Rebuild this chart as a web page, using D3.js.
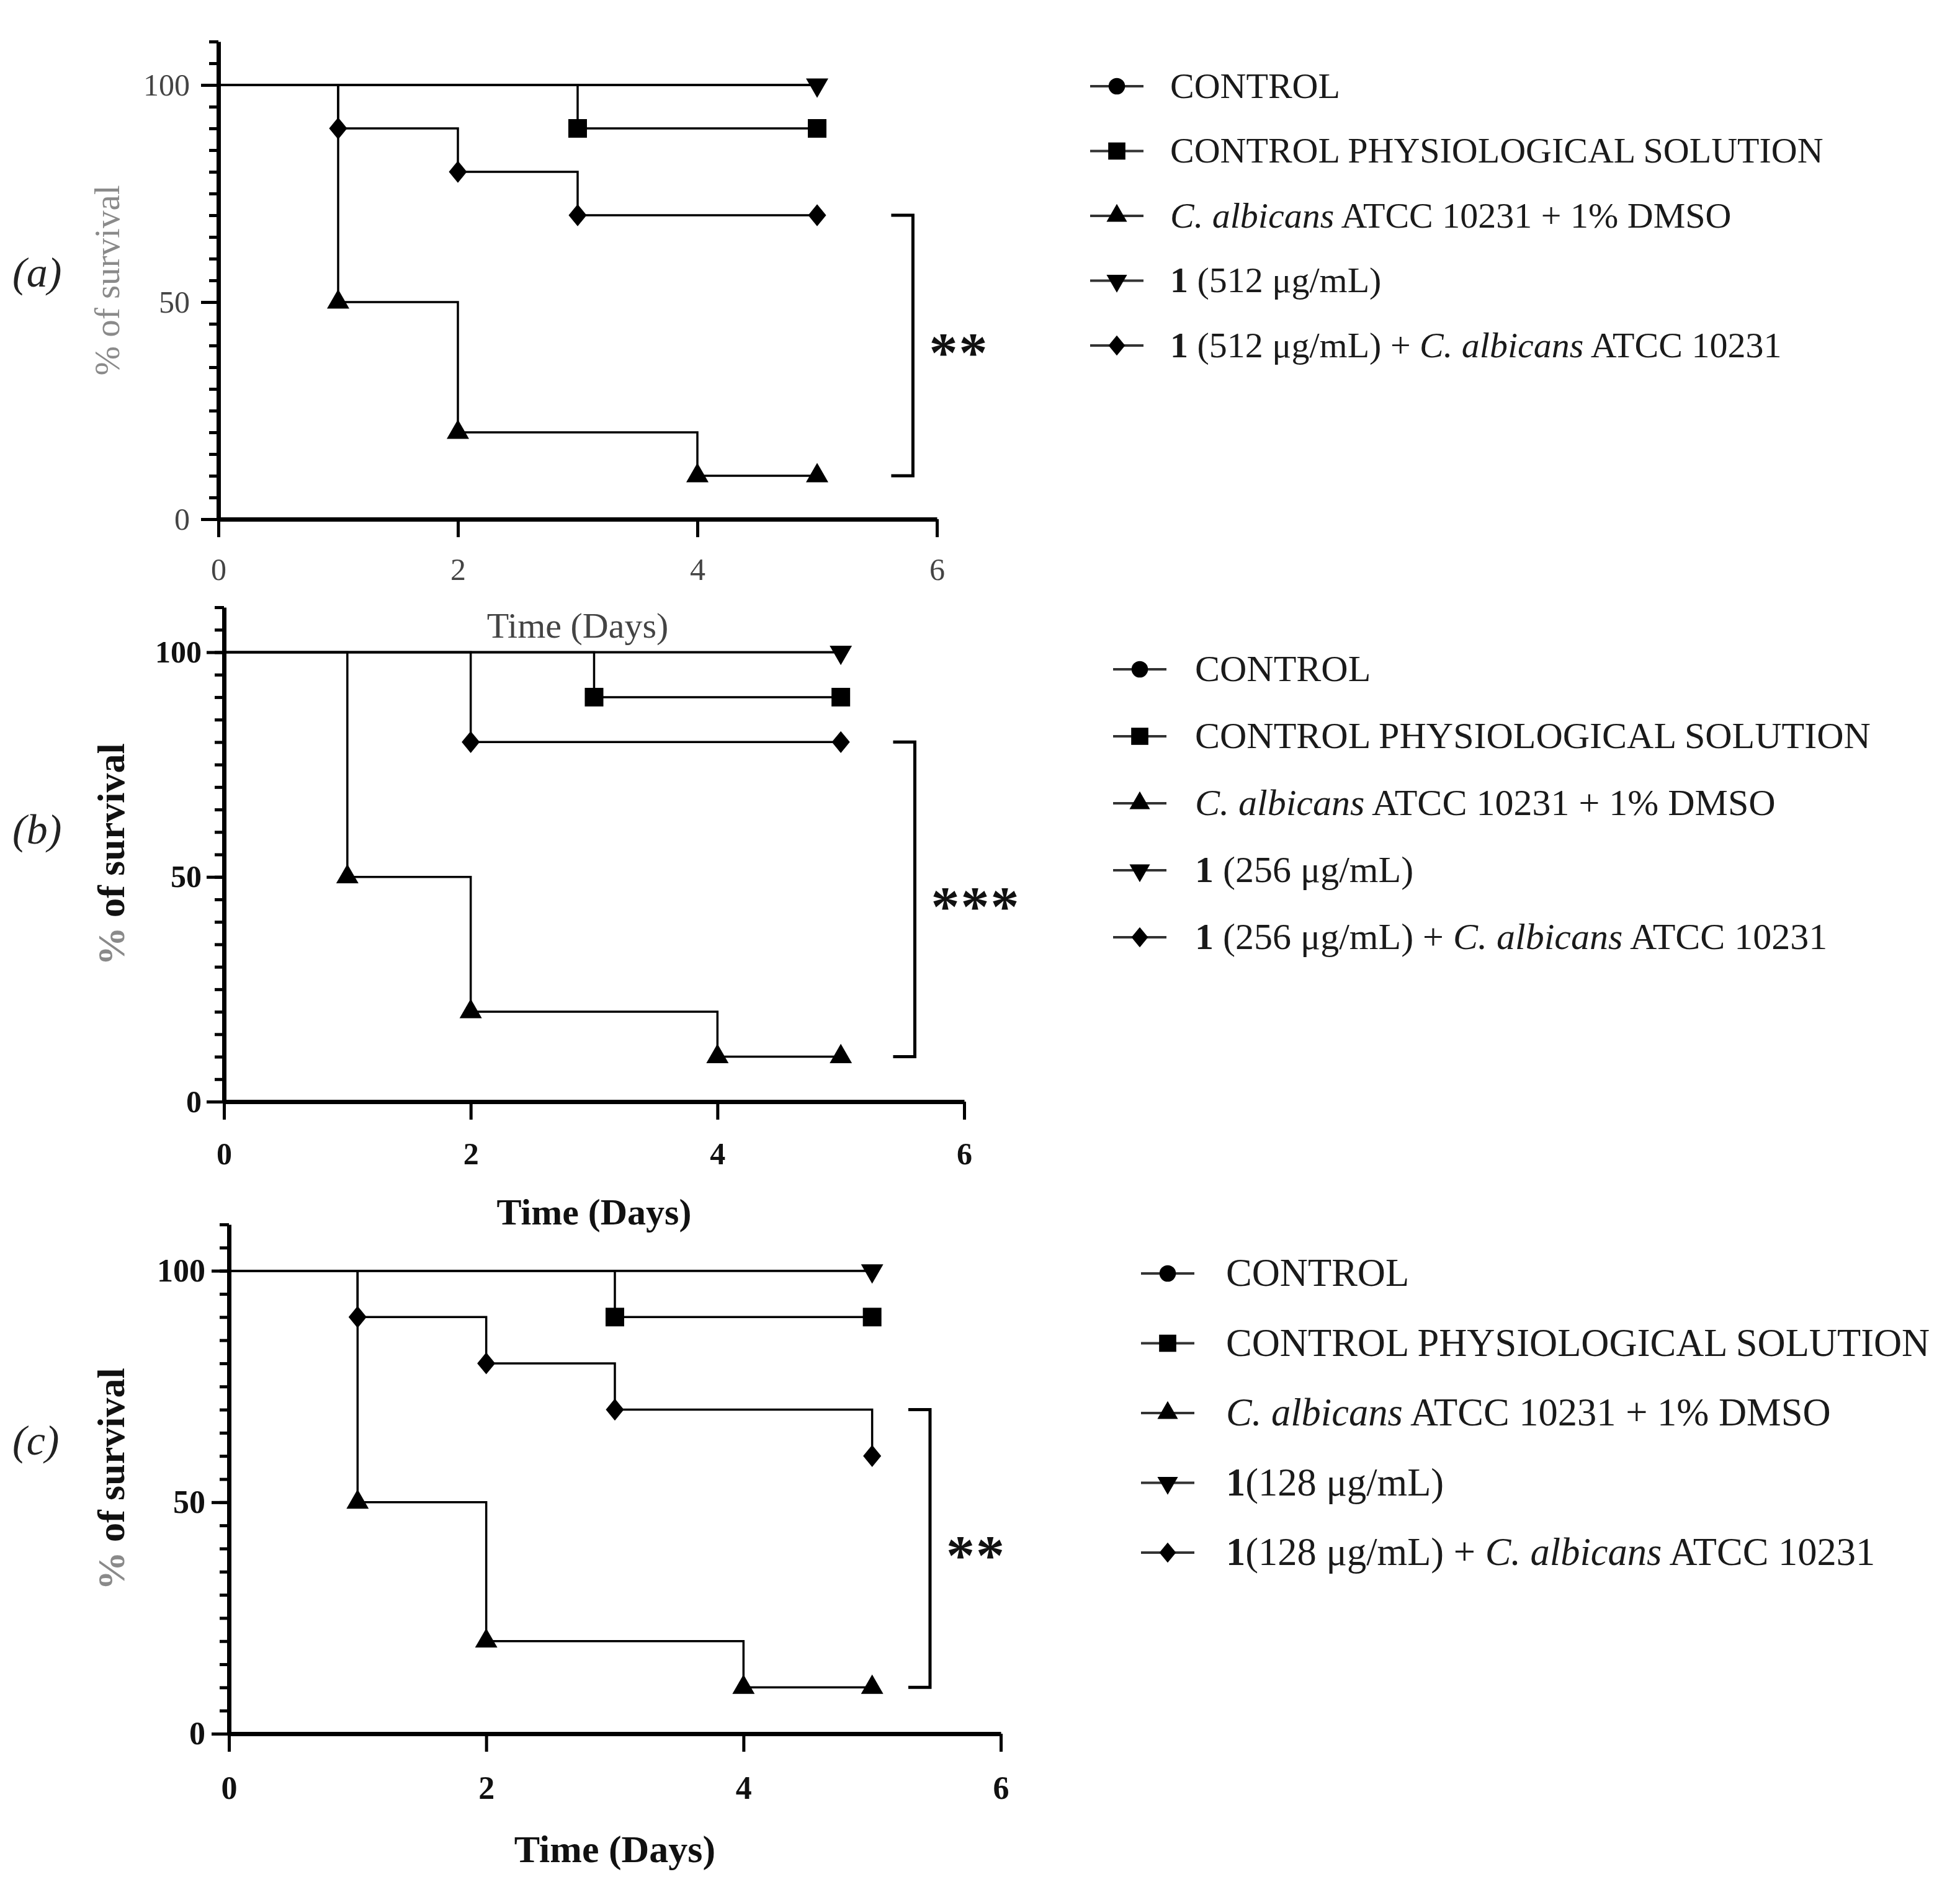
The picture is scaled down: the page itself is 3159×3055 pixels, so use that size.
<!DOCTYPE html>
<html>
<head>
<meta charset="utf-8">
<script src="https://cdn.jsdelivr.net/npm/d3@7"></script>
<style>
  body { margin: 0; background: #fff; }
  svg { display: block; }
  text { font-family: "Liberation Serif", "DejaVu Serif", serif; }
</style>
</head>
<body>
<svg id="chart"></svg>
<script>
// ---- data ----
const panelLabels = ["(a)", "(b)", "(c)"];
const doses = ["512", "256", "128"];
const doseGap = [" ", " ", ""];
const stars = ["**", "***", "**"];
const xTicks = [0, 2, 4, 6];
const yTicks = [0, 50, 100];
const yMinorTicks = [0, 5, 10, 15, 20, 25, 30, 35, 40, 45, 50, 55, 60, 65, 70, 75, 80, 85, 90, 95, 100, 105, 110];

// Kaplan-Meier steps: [day, % survival]
const control  = [[0, 100], [5, 100]];
const physio   = [[0, 100], [3, 90], [5, 90]];
const candida  = [[0, 100], [1, 50], [2, 20], [4, 10], [5, 10]];
const compound = [[0, 100], [5, 100]];
const comboA   = [[0, 100], [1, 90], [2, 80], [3, 70], [5, 70]];
const comboB   = [[0, 100], [2, 80], [5, 80]];
const comboC   = [[0, 100], [1, 90], [2, 80], [3, 70], [5, 60]];
const combos = [comboA, comboB, comboC];
const bracketSpan = [[70, 10], [80, 10], [70, 10]];

// ---- layout (pixels) ----
const W = 3159, H = 3055;
const layout = [
  { x0: 352, x6: 1510, yB: 837, yT: 67, bx: 5.8, bold: false, tickFs: 50, padX: 33, padY: 18,
    labFs: 57, labX: 192, timeFs: 58, timeDy: 191, tagY: 462,
    lgM: 1800, lgT: 1886, lgY: 139, lgStep: 104.5, lgFs: 58 },
  { x0: 361, x6: 1554, yB: 1776, yT: 979, bx: 5.6, bold: true, tickFs: 50, padX: 36, padY: 8,
    labFs: 62, labX: 200, timeFs: 60, timeDy: 198, tagY: 1360,
    lgM: 1837, lgT: 1926, lgY: 1079, lgStep: 108, lgFs: 60 },
  { x0: 369, x6: 1613, yB: 2795, yT: 1974, bx: 5.45, bold: true, tickFs: 52, padX: 39, padY: 10,
    labFs: 62, labX: 200, timeFs: 62, timeDy: 207, tagY: 2345,
    lgM: 1882, lgT: 1976, lgY: 2053, lgStep: 112.5, lgFs: 62.5 }
];

const diamond = {
  draw(ctx, size) {
    const s = Math.sqrt(size), w = s * 0.46, h = s * 0.56;
    ctx.moveTo(0, -h); ctx.lineTo(w, 0); ctx.lineTo(0, h); ctx.lineTo(-w, 0); ctx.closePath();
  }
};
const markers = [
  { type: d3.symbolCircle, size: 650, rot: 0 },
  { type: d3.symbolSquare, size: 900, rot: 0 },
  { type: d3.symbolTriangle, size: 560, rot: 0 },
  { type: d3.symbolTriangle, size: 560, rot: 180 },
  { type: diamond, size: 1000, rot: 0 }
];

const svg = d3.select("#chart").attr("width", W).attr("height", H);
svg.append("rect").attr("width", W).attr("height", H).attr("fill", "#fff");

layout.forEach((L, i) => {
  const x = d3.scaleLinear().domain([0, 6]).range([L.x0, L.x6]);
  const y = d3.scaleLinear().domain([0, 110]).range([L.yB, L.yT]);
  const g = svg.append("g");
  const weight = L.bold ? "bold" : "normal";
  const tickColor = L.bold ? "#111" : "#444";

  // minor y ticks
  g.append("g")
    .attr("transform", `translate(${L.x0},0)`)
    .call(d3.axisLeft(y).tickValues(yMinorTicks).tickSize(15).tickSizeOuter(0).tickFormat(""))
    .call(a => a.select(".domain").remove())
    .selectAll("line").attr("stroke", "#000").attr("stroke-width", 5);

  // main y axis
  g.append("g")
    .attr("transform", `translate(${L.x0},0)`)
    .call(d3.axisLeft(y).tickValues(yTicks).tickSize(28).tickSizeOuter(0).tickPadding(L.padY).tickFormat(d3.format("d")))
    .call(a => {
      a.select(".domain").attr("stroke", "#000").attr("stroke-width", 7);
      a.selectAll("line").attr("stroke", "#000").attr("stroke-width", 5);
      a.selectAll("text").attr("font-size", L.tickFs).attr("font-weight", weight)
        .attr("fill", tickColor).attr("font-family", "Liberation Serif, serif");
    });

  // x axis
  g.append("g")
    .attr("transform", `translate(0,${L.yB})`)
    .call(d3.axisBottom(x).tickValues(xTicks).tickSize(29).tickSizeOuter(0).tickPadding(L.padX).tickFormat(d3.format("d")))
    .call(a => {
      a.select(".domain").attr("stroke", "#000").attr("stroke-width", 7);
      a.selectAll("line").attr("stroke", "#000").attr("stroke-width", 5);
      a.selectAll("text").attr("font-size", L.tickFs).attr("font-weight", weight)
        .attr("fill", tickColor).attr("font-family", "Liberation Serif, serif");
    });

  // axis titles
  g.append("text")
    .attr("x", (L.x0 + L.x6) / 2)
    .attr("y", L.yB + L.timeDy)
    .attr("text-anchor", "middle")
    .attr("font-size", L.timeFs)
    .attr("font-weight", weight)
    .attr("fill", L.bold ? "#111" : "#444")
    .text("Time (Days)");

  const yl = g.append("text")
    .attr("transform", `translate(${L.labX},${(L.yB + L.yT) / 2}) rotate(-90)`)
    .attr("text-anchor", "middle")
    .attr("font-size", L.labFs)
    .attr("font-weight", weight)
    .attr("fill", L.bold ? "#111" : "#8a8a8a");
  yl.append("tspan").attr("fill", "#8a8a8a").text("%");
  yl.append("tspan").text(" of survival");

  // panel tag
  g.append("text")
    .attr("x", 20).attr("y", L.tagY)
    .attr("font-size", 68).attr("font-style", "italic").attr("fill", "#222")
    .text(panelLabels[i]);

  // survival curves
  const series = [control, physio, candida, compound, combos[i]];
  const line = d3.line().x(d => x(d[0])).y(d => y(d[1])).curve(d3.curveStepAfter);
  series.forEach(s => {
    g.append("path")
      .attr("d", line(s))
      .attr("fill", "none")
      .attr("stroke", "#000")
      .attr("stroke-width", 3.5);
  });
  series.forEach((s, k) => {
    if (k === 0) return; // control markers sit under the compound markers
    const m = markers[k];
    g.selectAll(null)
      .data(s.slice(1))
      .join("path")
      .attr("transform", d => `translate(${x(d[0])},${y(d[1])}) rotate(${m.rot})`)
      .attr("d", d3.symbol().type(m.type).size(m.size))
      .attr("fill", "#000");
  });

  // significance bracket
  const [top, bot] = bracketSpan[i];
  const bxp = x(L.bx);
  g.append("path")
    .attr("d", `M${bxp - 35},${y(top)}H${bxp}V${y(bot)}H${bxp - 35}`)
    .attr("fill", "none").attr("stroke", "#000").attr("stroke-width", 5);
  g.append("text")
    .attr("x", bxp + 26)
    .attr("y", (y(top) + y(bot)) / 2 + 42)
    .attr("font-family", "Liberation Sans, sans-serif")
    .attr("font-size", 92)
    .attr("font-weight", "bold")
    .attr("letter-spacing", 2)
    .attr("fill", "#111")
    .text(stars[i]);

  // legend
  const rows = [
    [{ t: "CONTROL" }],
    [{ t: "CONTROL PHYSIOLOGICAL SOLUTION" }],
    [{ t: "C. albicans", it: true }, { t: " ATCC 10231 + 1% DMSO" }],
    [{ t: "1", b: true }, { t: `${doseGap[i]}(${doses[i]} μg/mL)` }],
    [{ t: "1", b: true }, { t: `${doseGap[i]}(${doses[i]} μg/mL) + ` }, { t: "C. albicans", it: true }, { t: " ATCC 10231" }]
  ];
  rows.forEach((parts, r) => {
    const ry = L.lgY + r * L.lgStep;
    g.append("line")
      .attr("x1", L.lgM - 43).attr("x2", L.lgM + 43)
      .attr("y1", ry).attr("y2", ry)
      .attr("stroke", "#333").attr("stroke-width", 4);
    const m = markers[r];
    g.append("path")
      .attr("transform", `translate(${L.lgM},${ry}) rotate(${m.rot})`)
      .attr("d", d3.symbol().type(m.type).size(m.size * 0.85))
      .attr("fill", "#000");
    const t = g.append("text")
      .attr("x", L.lgT).attr("y", ry + L.lgFs * 0.32)
      .attr("font-size", L.lgFs).attr("fill", "#1a1a1a");
    parts.forEach(p => {
      t.append("tspan")
        .attr("font-style", p.it ? "italic" : null)
        .attr("font-weight", p.b ? "bold" : null)
        .text(p.t);
    });
  });
});
</script>
</body>
</html>
